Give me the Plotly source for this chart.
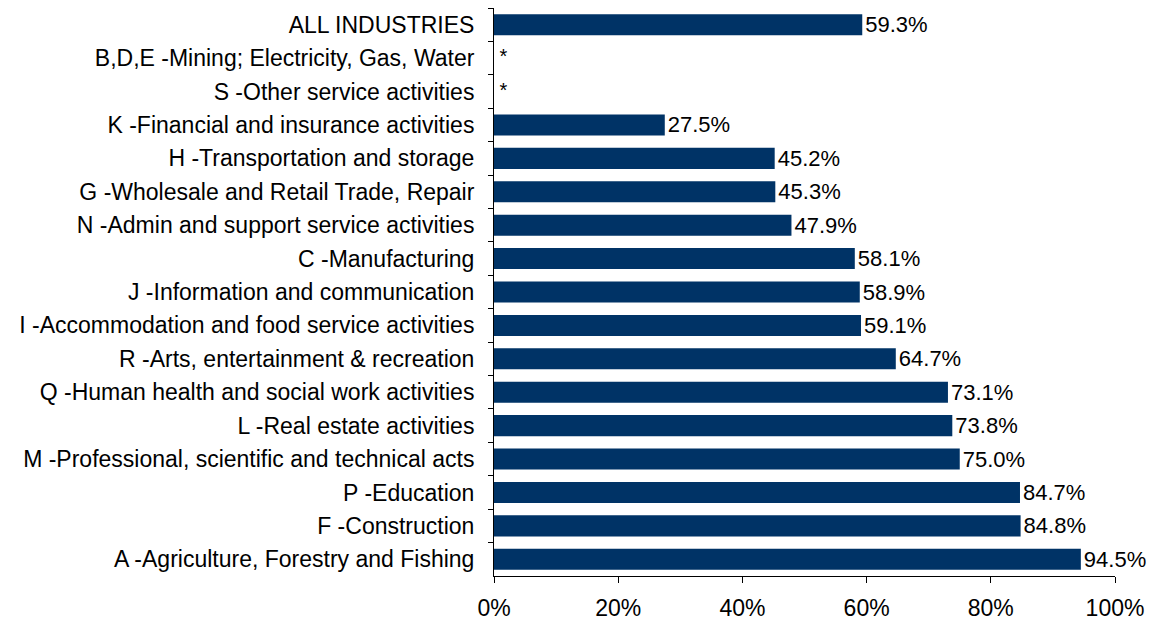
import plotly.graph_objects as go

categories = [
    "ALL INDUSTRIES",
    "B,D,E -Mining; Electricity, Gas, Water",
    "S -Other service activities",
    "K -Financial and insurance activities",
    "H -Transportation and storage",
    "G -Wholesale and Retail Trade, Repair",
    "N -Admin and support service activities",
    "C -Manufacturing",
    "J -Information and communication",
    "I -Accommodation and food service activities",
    "R -Arts, entertainment & recreation",
    "Q -Human health and social work activities",
    "L -Real estate activities",
    "M -Professional, scientific and technical acts",
    "P -Education",
    "F -Construction",
    "A -Agriculture, Forestry and Fishing",
]
values = [59.3, None, None, 27.5, 45.2, 45.3, 47.9, 58.1, 58.9, 59.1,
          64.7, 73.1, 73.8, 75.0, 84.7, 84.8, 94.5]
tick_vals = [0, 20, 40, 60, 80, 100]
tick_text = ["0%", "20%", "40%", "60%", "80%", "100%"]

font = "Liberation Sans, Arial, sans-serif"
navy = "#003366"

# bars for the known values
bar_x = [v if v is not None else 0 for v in values]
bar_text = [f"{v:.1f}%" if v is not None else "" for v in values]

fig = go.Figure()
fig.add_trace(go.Bar(
    y=categories, x=bar_x, orientation="h",
    marker=dict(color=navy, line=dict(width=0)),
    text=bar_text, textposition="outside", cliponaxis=False,
    constraintext="none",
    textfont=dict(size=22, color="black", family=font),
    showlegend=False,
))

# asterisks for suppressed values
miss_y = [c for c, v in zip(categories, values) if v is None]
fig.add_trace(go.Scatter(
    y=miss_y, x=[0] * len(miss_y), mode="text",
    text=[" *"] * len(miss_y), textposition="middle right",
    textfont=dict(size=20, color="black", family=font),
    showlegend=False, cliponaxis=False,
))

# page body has an 8px margin, so the figure is sized to fit inside the window
fig.update_layout(
    width=1153, height=616,
    margin=dict(l=486, r=46, t=0, b=48),
    plot_bgcolor="white", paper_bgcolor="white",
    bargap=0.37,
    font=dict(family=font, size=23, color="black"),
    xaxis=dict(
        range=[0, 100], tickvals=tick_vals, ticktext=tick_text,
        showgrid=False, zeroline=False,
        showline=True, linecolor="black", linewidth=1,
        ticks="outside", ticklen=6, tickcolor="black",
        tickfont=dict(size=23), ticklabelstandoff=5, automargin=False,
    ),
    yaxis=dict(
        autorange="reversed", showgrid=False,
        showline=True, linecolor="black", linewidth=1,
        ticks="outside", ticklen=5, tickcolor="black", tickson="boundaries",
        tickfont=dict(size=23), ticklabelstandoff=14, automargin=False,
    ),
)

fig.write_html("out.html")
